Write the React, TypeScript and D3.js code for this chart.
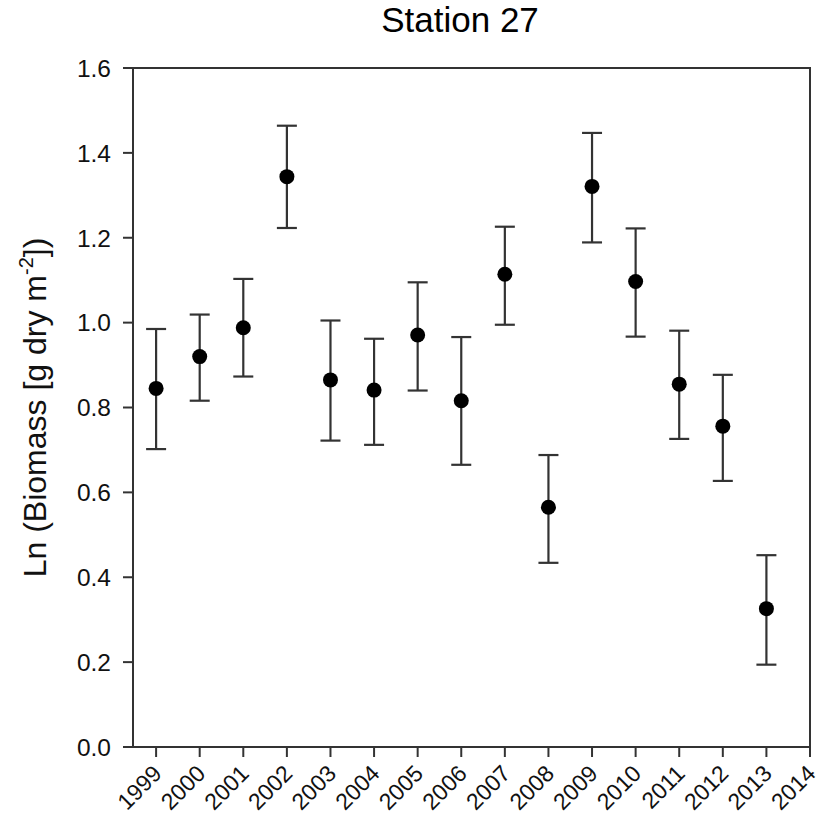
import React from "react";
import * as d3 from "d3";

// Annual biomass at Station 27: mean with upper/lower error limits
const years = [1999, 2000, 2001, 2002, 2003, 2004, 2005, 2006, 2007, 2008, 2009, 2010, 2011, 2012, 2013];
const means = [0.845, 0.92, 0.988, 1.344, 0.865, 0.841, 0.971, 0.816, 1.114, 0.565, 1.321, 1.097, 0.855, 0.756, 0.326];
const upper = [0.985, 1.019, 1.103, 1.464, 1.005, 0.962, 1.095, 0.966, 1.226, 0.688, 1.447, 1.222, 0.981, 0.877, 0.452];
const lower = [0.702, 0.816, 0.873, 1.223, 0.722, 0.712, 0.84, 0.665, 0.995, 0.434, 1.189, 0.967, 0.726, 0.627, 0.194];

const xTicks = [1999, 2000, 2001, 2002, 2003, 2004, 2005, 2006, 2007, 2008, 2009, 2010, 2011, 2012, 2013, 2014];
const yTicks = [0, 0.2, 0.4, 0.6, 0.8, 1.0, 1.2, 1.4, 1.6];

const W = 823;
const H = 822;
const left = 133;
const right = 810;
const top = 68;
const bottom = 747;

const FONT = "Arial, 'Liberation Sans', sans-serif";
const INK = "#333";

export default function App() {
  const x = d3.scaleLinear().domain([1998.47, 2014]).range([left, right]);
  const y = d3.scaleLinear().domain([0, 1.6]).range([bottom, top]);
  const fmt = d3.format(".1f");
  const cap = 10;
  const tickLen = 10;

  return (
    <svg
      width={W}
      height={H}
      style={{ position: "absolute", left: 0, top: 0, background: "#fff" }}
      fontFamily={FONT}
    >
      <rect x={0} y={0} width={W} height={H} fill="#fff" />

      <text x={460} y={32} textAnchor="middle" fontSize={35} fill="#000">
        Station 27
      </text>

      {/* frame */}
      <rect
        x={left}
        y={top}
        width={right - left}
        height={bottom - top}
        fill="none"
        stroke={INK}
        strokeWidth={2}
      />

      {/* y axis */}
      {yTicks.map((t) => (
        <g key={"y" + t}>
          <line x1={left - tickLen} x2={left} y1={y(t)} y2={y(t)} stroke={INK} strokeWidth={2} />
          <text
            x={111}
            y={y(t)}
            dy="0.36em"
            textAnchor="end"
            fontSize={24.5}
            fill="#111"
          >
            {fmt(t)}
          </text>
        </g>
      ))}

      {/* x axis */}
      {xTicks.map((t) => (
        <g key={"x" + t}>
          <line x1={x(t)} x2={x(t)} y1={bottom} y2={bottom + tickLen} stroke={INK} strokeWidth={2} />
          <text
            transform={`translate(${x(t) + 7},${775}) rotate(-45)`}
            textAnchor="end"
            fontSize={23}
            fill="#111"
          >
            {t}
          </text>
        </g>
      ))}

      {/* y axis title */}
      <text
        transform={`translate(46,${(top + bottom) / 2}) rotate(-90)`}
        textAnchor="middle"
        fontSize={32}
        fill="#111"
      >
        Ln (Biomass [g dry m
        <tspan fontSize={20} dy={-13}>
          -2
        </tspan>
        <tspan dy={13}>])</tspan>
      </text>

      {/* error bars */}
      {years.map((yr, i) => (
        <g key={"e" + yr} stroke={INK} strokeWidth={2.2}>
          <line x1={x(yr)} x2={x(yr)} y1={y(upper[i])} y2={y(lower[i])} />
          <line x1={x(yr) - cap} x2={x(yr) + cap} y1={y(upper[i])} y2={y(upper[i])} />
          <line x1={x(yr) - cap} x2={x(yr) + cap} y1={y(lower[i])} y2={y(lower[i])} />
        </g>
      ))}

      {/* means */}
      {years.map((yr, i) => (
        <circle key={"m" + yr} cx={x(yr)} cy={y(means[i])} r={7.5} fill="#000" />
      ))}
    </svg>
  );
}
